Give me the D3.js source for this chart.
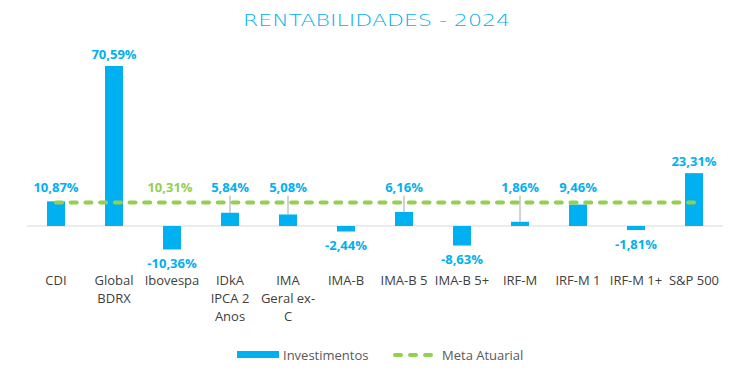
<!DOCTYPE html>
<html>
<head>
<meta charset="utf-8">
<script src="https://cdn.jsdelivr.net/npm/d3@7"></script>
<style>
  body { margin: 0; background: #fff; }
  svg { display: block; }
</style>
</head>
<body>
<div id="chart"></div>
<script>
// DATA

// category names, "\n" marks where the label wraps under the axis
const categories = ["CDI", "Global\nBDRX", "Ibovespa", "IDkA\nIPCA 2\nAnos", "IMA\nGeral ex-\nC",
  "IMA-B", "IMA-B 5", "IMA-B 5+", "IRF-M", "IRF-M 1", "IRF-M 1+", "S&P 500"];

// returns of each index in 2024 (%)
const investimentos = [10.87, 70.59, -10.36, 5.84, 5.08, -2.44, 6.16, -8.63, 1.86, 9.46, -1.81, 23.31];

// actuarial target, same value for every category
const metaAtuarial = [10.31, 10.31, 10.31, 10.31, 10.31, 10.31, 10.31, 10.31, 10.31, 10.31, 10.31, 10.31];

// category where the target label is written
const metaLabelIndex = 2;

// SVG SETUP
const w = 745, h = 376;
const blue = "#00b0f0", green = "#92d050";

const svg = d3.select("#chart")
  .append("svg")
  .attr("width", w)
  .attr("height", h);

const fmt = (v) => v.toFixed(2).replace(".", ",") + "%";

// band scale for the categories, linear scale for the values
const x = d3.scaleBand()
  .domain(categories)
  .range([27, 723])
  .padding(0);

const y = d3.scaleLinear()
  .domain([-20, 80])
  .range([271.3, 44.7]);

const barW = x.bandwidth() * 0.31;
const cx = (i) => x(categories[i]) + x.bandwidth() / 2;

// TITLE (wide, thin lettering)
svg.append("text")
  .attr("x", 376.5)
  .attr("y", 26)
  .attr("text-anchor", "middle")
  .attr("font-family", "'DejaVu Sans', sans-serif")
  .attr("font-weight", 200)
  .attr("font-size", 16.5)
  .attr("fill", blue)
  .attr("textLength", 267)
  .attr("lengthAdjust", "spacingAndGlyphs")
  .text("RENTABILIDADES - 2024");

// zero line
svg.append("line")
  .attr("x1", x.range()[0])
  .attr("x2", x.range()[1])
  .attr("y1", y(0))
  .attr("y2", y(0))
  .attr("stroke", "#d9d9d9")
  .attr("stroke-width", 1);

// BARS
svg.selectAll("rect.bar")
  .data(investimentos)
  .enter()
  .append("rect")
  .attr("class", "bar")
  .attr("x", (d, i) => cx(i) - barW / 2)
  .attr("y", (d) => y(Math.max(0, d)))
  .attr("width", barW)
  .attr("height", (d) => Math.abs(y(d) - y(0)))
  .attr("fill", blue);

// META LINE
const metaY = y(metaAtuarial[0]);
const metaLine = d3.line()
  .x((d, i) => cx(i))
  .y((d) => y(d));

svg.append("path")
  .datum(metaAtuarial)
  .attr("d", metaLine)
  .attr("fill", "none")
  .attr("stroke", green)
  .attr("stroke-width", 4)
  .attr("stroke-linecap", "round")
  .attr("stroke-dasharray", "6 8.7");

// VALUE LABELS
// positive labels that would sit on the target line are lifted above it,
// with a thin leader line when the bar is far below
const labelPos = investimentos.map((d, i) => {
  if (d < 0) return { x: cx(i), cy: y(d) + 14, leader: false };
  let cy = y(d) - 12;
  const lifted = Math.min(cy, metaY - 15);
  const leader = y(d) - (lifted + 7) > 12;
  return { x: cx(i), cy: lifted, leader: leader, top: y(d) };
});

svg.selectAll("line.leader")
  .data(labelPos.filter((p) => p.leader))
  .enter()
  .append("line")
  .attr("class", "leader")
  .attr("x1", (p) => p.x)
  .attr("x2", (p) => p.x)
  .attr("y1", (p) => p.cy + 8)
  .attr("y2", (p) => p.top)
  .attr("stroke", "#a6a6a6")
  .attr("stroke-width", 1);

svg.selectAll("text.value")
  .data(investimentos)
  .enter()
  .append("text")
  .attr("class", "value")
  .attr("x", (d, i) => labelPos[i].x)
  .attr("y", (d, i) => labelPos[i].cy + 4.6)
  .attr("text-anchor", "middle")
  .attr("font-family", "'Open Sans', sans-serif")
  .attr("font-weight", 700)
  .attr("font-size", 13)
  .attr("fill", blue)
  .text((d) => fmt(d));

// target label
svg.append("text")
  .attr("x", cx(metaLabelIndex) - 2)
  .attr("y", metaY - 15 + 4.6)
  .attr("text-anchor", "middle")
  .attr("font-family", "'Open Sans', sans-serif")
  .attr("font-weight", 700)
  .attr("font-size", 13)
  .attr("fill", green)
  .text(fmt(metaAtuarial[metaLabelIndex]));

// CATEGORY LABELS
const catText = svg.selectAll("text.cat")
  .data(categories)
  .enter()
  .append("text")
  .attr("class", "cat")
  .attr("text-anchor", "middle")
  .attr("font-family", "'Open Sans', sans-serif")
  .attr("font-size", 13)
  .attr("fill", "#404040");

catText.selectAll("tspan")
  .data((d, i) => d.split("\n").map((t) => ({ t: t, i: i })))
  .enter()
  .append("tspan")
  .attr("x", (d) => cx(d.i))
  .attr("y", (d, j) => 284.5 + j * 18)
  .text((d) => d.t);

// LEGEND
const legend = svg.append("g");

legend.append("rect")
  .attr("x", 237)
  .attr("y", 351)
  .attr("width", 42)
  .attr("height", 7)
  .attr("fill", blue);

legend.append("text")
  .attr("x", 283)
  .attr("y", 359.5)
  .attr("font-family", "'Open Sans', sans-serif")
  .attr("font-size", 13)
  .attr("fill", "#595959")
  .text("Investimentos");

legend.append("line")
  .attr("x1", 395)
  .attr("x2", 431)
  .attr("y1", 355)
  .attr("y2", 355)
  .attr("stroke", green)
  .attr("stroke-width", 4)
  .attr("stroke-linecap", "round")
  .attr("stroke-dasharray", "6 9");

legend.append("text")
  .attr("x", 442)
  .attr("y", 359.5)
  .attr("font-family", "'Open Sans', sans-serif")
  .attr("font-size", 13)
  .attr("fill", "#595959")
  .text("Meta Atuarial");
</script>
</body>
</html>
